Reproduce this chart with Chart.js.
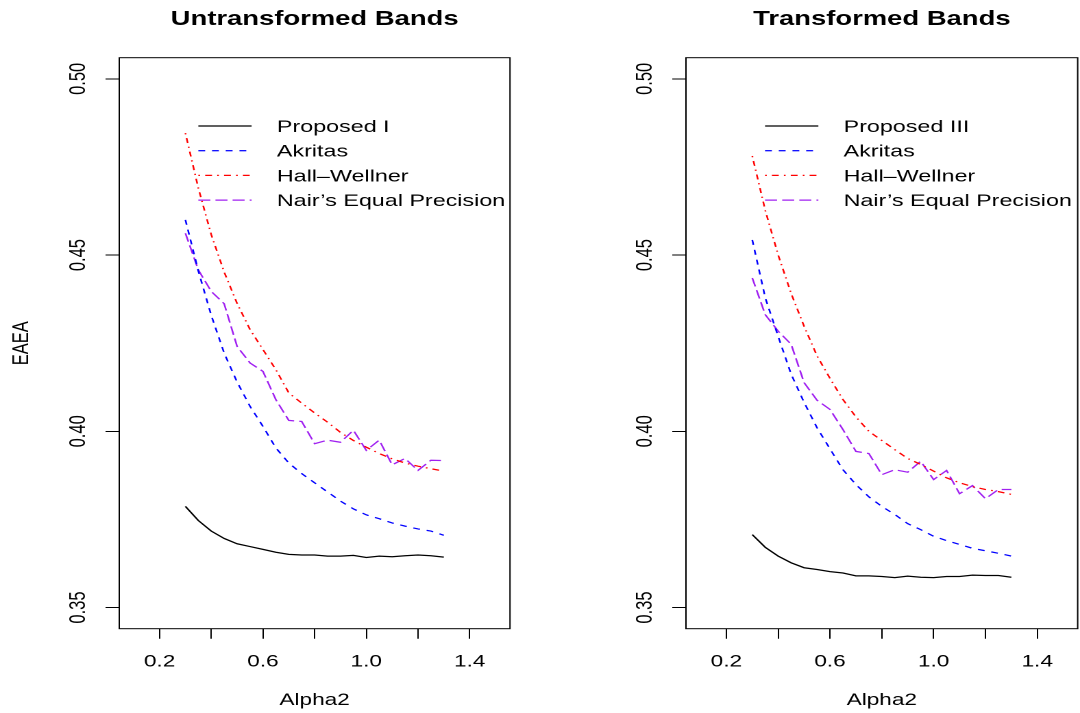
<!DOCTYPE html>
<html>
<head>
<meta charset="utf-8">
<script src="https://cdn.jsdelivr.net/npm/chart.js@4.4.0/dist/chart.umd.min.js"></script>
<style>
  html, body { margin: 0; padding: 0; background: #fff; }
  .wrap { position: relative; width: 1080px; height: 713px; overflow: hidden; }
  canvas { position: absolute; top: 0; }
</style>
</head>
<body>
<div class="wrap">
  <canvas id="left" width="394" height="713" style="left:0px;width:540px;height:713px"></canvas>
  <canvas id="right" width="394" height="713" style="left:540px;width:540px;height:713px"></canvas>
</div>
<script>
// Alpha2 grid shared by both panels
const alpha2 = [0.30, 0.35, 0.40, 0.45, 0.50, 0.55, 0.60, 0.65, 0.70, 0.75, 0.80,
                0.85, 0.90, 0.95, 1.00, 1.05, 1.10, 1.15, 1.20, 1.25, 1.30];

// Untransformed bands
const proposedI = [0.3787, 0.3747, 0.3717, 0.3696, 0.3681, 0.3673, 0.3665, 0.3657, 0.3651, 0.3649, 0.3649,
                   0.3646, 0.3646, 0.3648, 0.3642, 0.3646, 0.3644, 0.3647, 0.3649, 0.3647, 0.3643];
const akritasU  = [0.4600, 0.4455, 0.4329, 0.4222, 0.4140, 0.4071, 0.4014, 0.3953, 0.3910, 0.3880, 0.3854,
                   0.3828, 0.3802, 0.3780, 0.3763, 0.3752, 0.3740, 0.3731, 0.3723, 0.3717, 0.3705];
const hallU     = [0.4846, 0.4690, 0.4558, 0.4452, 0.4363, 0.4289, 0.4232, 0.4175, 0.4109, 0.4080, 0.4052,
                   0.4026, 0.3997, 0.3974, 0.3955, 0.3937, 0.3922, 0.3910, 0.3901, 0.3894, 0.3887];
const nairU     = [0.4562, 0.4458, 0.4397, 0.4362, 0.4241, 0.4194, 0.4170, 0.4090, 0.4031, 0.4028, 0.3965,
                   0.3975, 0.3969, 0.4003, 0.3946, 0.3975, 0.3905, 0.3923, 0.3889, 0.3918, 0.3917];

// Transformed bands
const proposedIII = [0.3707, 0.3671, 0.3646, 0.3627, 0.3613, 0.3608, 0.3602, 0.3598, 0.3590, 0.3590, 0.3588,
                     0.3585, 0.3589, 0.3586, 0.3585, 0.3588, 0.3588, 0.3592, 0.3591, 0.3591, 0.3586];
const akritasT  = [0.4543, 0.4379, 0.4269, 0.4162, 0.4082, 0.4010, 0.3950, 0.3891, 0.3849, 0.3814, 0.3787,
                   0.3764, 0.3738, 0.3721, 0.3702, 0.3690, 0.3679, 0.3668, 0.3661, 0.3654, 0.3646];
const hallT     = [0.4781, 0.4627, 0.4500, 0.4391, 0.4298, 0.4214, 0.4150, 0.4090, 0.4041, 0.4000, 0.3974,
                   0.3948, 0.3923, 0.3906, 0.3887, 0.3868, 0.3854, 0.3843, 0.3835, 0.3829, 0.3821];
const nairT     = [0.4435, 0.4331, 0.4284, 0.4247, 0.4138, 0.4088, 0.4062, 0.4005, 0.3943, 0.3937, 0.3877,
                   0.3891, 0.3884, 0.3915, 0.3863, 0.3889, 0.3823, 0.3846, 0.3809, 0.3835, 0.3835];

// Axis ticks
const xTickMarks = [0.2, 0.4, 0.6, 0.8, 1.0, 1.2, 1.4];
const xTickLabels = [0.2, 0.6, 1.0, 1.4];
const yTicks = [0.35, 0.40, 0.45, 0.50];

const FONT = '"Liberation Sans", Arial, Helvetica, sans-serif';

function toPoints(ys) {
  return alpha2.map((x, i) => ({ x: x, y: ys[i] }));
}

function series(label, ys, color, dash) {
  return {
    label: label,
    data: toPoints(ys),
    borderColor: color,
    borderWidth: 1.25,
    borderDash: dash,
    pointRadius: 0,
    tension: 0,
    fill: false
  };
}

// Box, R-style text and the inset legend
const rPlotText = {
  id: 'rPlotText',
  afterDraw(chart, args, opts) {
    const ctx = chart.ctx;
    const a = chart.chartArea;
    const xs = chart.scales.x;
    const ys = chart.scales.y;
    const cx = (a.left + a.right) / 2;

    ctx.save();
    ctx.strokeStyle = '#000';
    ctx.lineWidth = 1;
    ctx.strokeRect(a.left, a.top, a.right - a.left, a.bottom - a.top);

    ctx.fillStyle = '#000';
    ctx.textBaseline = 'alphabetic';

    // panel title
    ctx.font = 'bold 20px ' + FONT;
    ctx.textAlign = 'center';
    ctx.fillText(opts.title, cx, a.top - 32.7);

    // x tick labels and title
    ctx.font = '16.5px ' + FONT;
    xTickLabels.forEach(v => ctx.fillText(v.toFixed(1), xs.getPixelForValue(v), a.bottom + 38));
    ctx.fillText('Alpha2', cx, a.bottom + 76.3);

    // y tick labels, rotated like R's default
    yTicks.forEach(v => {
      ctx.save();
      ctx.translate(a.left - 25, ys.getPixelForValue(v));
      ctx.rotate(-Math.PI / 2);
      ctx.fillText(v.toFixed(2), 0, 0);
      ctx.restore();
    });

    if (opts.yTitle) {
      ctx.save();
      ctx.translate(a.left - 66.3, (a.top + a.bottom) / 2);
      ctx.rotate(-Math.PI / 2);
      ctx.fillText(opts.yTitle, 0, 0);
      ctx.restore();
    }

    // legend
    ctx.font = '17px ' + FONT;
    ctx.textAlign = 'left';
    chart.data.datasets.forEach((ds, i) => {
      const ly = a.top + 68.3 + i * 24.7;
      ctx.save();
      ctx.strokeStyle = ds.borderColor;
      ctx.lineWidth = ds.borderWidth;
      ctx.setLineDash(ds.borderDash || []);
      ctx.beginPath();
      ctx.moveTo(a.left + 57.7, ly);
      ctx.lineTo(a.left + 96.6, ly);
      ctx.stroke();
      ctx.restore();
      ctx.fillText(ds.label, a.left + 115, ly + 6);
    });
    ctx.restore();
  }
};

function makePanel(id, title, yTitle, pad, datasets) {
  return new Chart(document.getElementById(id), {
    type: 'line',
    data: { datasets: datasets },
    plugins: [rPlotText],
    options: {
      responsive: false,
      devicePixelRatio: 2,
      animation: false,
      layout: { padding: pad },
      plugins: {
        legend: { display: false },
        title: { display: false },
        tooltip: { enabled: false },
        rPlotText: { title: title, yTitle: yTitle }
      },
      scales: {
        x: {
          type: 'linear',
          min: 0.044,
          max: 1.556,
          afterBuildTicks: s => { s.ticks = xTickMarks.map(v => ({ value: v })); },
          ticks: { display: false },
          grid: { drawOnChartArea: false, drawTicks: true, tickLength: 10, color: '#000', lineWidth: 1 },
          border: { display: false }
        },
        y: {
          type: 'linear',
          min: 0.344,
          max: 0.506,
          afterBuildTicks: s => { s.ticks = yTicks.map(v => ({ value: v })); },
          ticks: { display: false },
          grid: { drawOnChartArea: false, drawTicks: true, tickLength: 10, color: '#000', lineWidth: 1 },
          border: { display: false }
        }
      }
    }
  });
}

const dashAkritas = [5, 5];
const dashHall = [1.25, 3.75, 5, 3.75];
const dashNair = [8.75, 3.75];

makePanel('left', 'Untransformed Bands', 'EAEA',
  { left: 77, right: 21.9, top: 57.7, bottom: 74.3 },
  [
    series('Proposed I', proposedI, '#000000', []),
    series('Akritas', akritasU, '#0000FF', dashAkritas),
    series('Hall\u2013Wellner', hallU, '#FF0000', dashHall),
    series('Nair\u2019s Equal Precision', nairU, '#A020F0', dashNair)
  ]);

makePanel('right', 'Transformed Bands', null,
  { left: 96.5, right: 1.7, top: 57.7, bottom: 74.3 },
  [
    series('Proposed III', proposedIII, '#000000', []),
    series('Akritas', akritasT, '#0000FF', dashAkritas),
    series('Hall\u2013Wellner', hallT, '#FF0000', dashHall),
    series('Nair\u2019s Equal Precision', nairT, '#A020F0', dashNair)
  ]);
</script>
</body>
</html>
